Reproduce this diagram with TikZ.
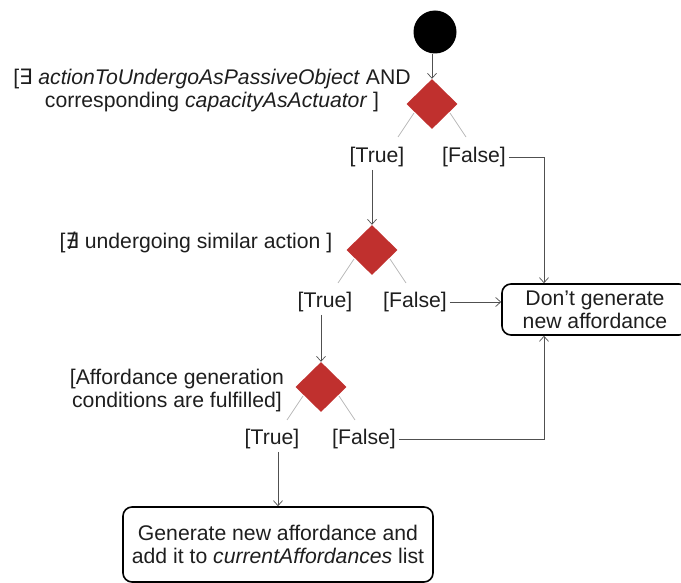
\documentclass[tikz,border=0pt]{standalone}
\usepackage{fontspec}
\setmainfont{Liberation Sans}
\newfontfamily\symfont{DejaVu Sans}
\usetikzlibrary{arrows.meta,shapes.geometric,calc}
\definecolor{dred}{HTML}{C0302E}
\definecolor{linegray}{HTML}{505050}
\definecolor{brgray}{HTML}{B8B8B8}
\definecolor{txt}{HTML}{1E1E1E}
\begin{document}
\begin{tikzpicture}[x=1pt,y=-1pt,
  font=\fontsize{21.2}{23}\selectfont,
  decision/.style={diamond, fill=dred, draw=none, minimum width=51pt, minimum height=50pt, inner sep=0pt},
  lbl/.style={inner sep=0pt, outer sep=3pt, align=center, text=txt},
  act/.style={draw=black, line width=1.6pt, rounded corners=9pt, align=center, inner sep=0pt, text=txt},
  flow/.style={draw=linegray, line width=0.7pt, -{Straight Barb[length=5pt,width=9pt]}},
  branch/.style={draw=brgray, line width=0.8pt}]
\useasboundingbox (0,0) rectangle (681,583);
\clip (0,0) rectangle (681,583);

% nodes
\node[circle, fill=black, minimum size=43pt, inner sep=0pt] (start) at (435,32) {};
\node[decision] (d1) at (432,104) {};
\node[lbl] (c1) at (212,90) {[{\symfont ∃} \textit{actionToUndergoAsPassiveObject} AND\\corresponding \textit{capacityAsActuator} ]};
\node[lbl] (t1) at (377,157) {[True]};
\node[lbl] (f1) at (474,157) {[False]};

\node[decision] (d2) at (372,250) {};
\node[lbl] (c2) at (196,242) {[{\symfont ∄} undergoing similar action ]};
\node[lbl] (t2) at (325,302) {[True]};
\node[lbl] (f2) at (415,302) {[False]};

\node[decision] (d3) at (321,387) {};
\node[lbl] (c3) at (177,391) {[Affordance generation\\conditions are fulfilled]};
\node[lbl] (t3) at (272,439) {[True]};
\node[lbl] (f3) at (364,439) {[False]};

\node[act, minimum width=186pt, minimum height=51pt] (box1) at (595,309.5) {Don't generate\\new affordance};
\node[act, minimum width=310pt, minimum height=75pt] (box2) at (278,544.5) {Generate new affordance and\\add it to \textit{currentAffordances} list};

\coordinate (bx) at (544,310);

% branch lines
\foreach \d in {d1,d2,d3}{
  \draw[branch] ($(\d)+(-18,9)$) -- ($(\d)+(-34,33)$);
  \draw[branch] ($(\d)+(18,9)$) -- ($(\d)+(34,33)$);
}

% flows
\draw[flow] (start.south -| d1) -- (d1.north);
\draw[flow] (t1.south -| d2) -- (d2.north);
\draw[flow] (f1.east) -| (box1.north -| bx);
\draw[flow] (t2.south -| d3) -- (d3.north);
\draw[flow] (f2.east) -- (f2.east -| box1.west);
\draw[flow] (f3.east) -| (box1.south -| bx);
\draw[flow] (t3.south -| box2.north) -- (box2.north);
\end{tikzpicture}
\end{document}
